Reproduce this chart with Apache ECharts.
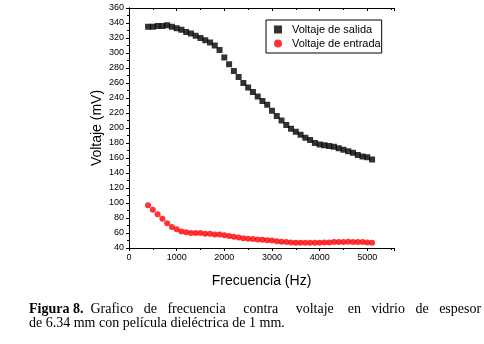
<!DOCTYPE html>
<html>
<head>
<meta charset="utf-8">
<script src="https://cdn.jsdelivr.net/npm/echarts@6/dist/echarts.min.js"></script>
<style>
  html, body { margin: 0; padding: 0; background: #fff; }
  #main { width: 484px; height: 344px; }
</style>
</head>
<body>
<div id="main"></div>
<script>
// frequency (Hz)
const freq = [400, 500, 600, 700, 800, 900, 1000, 1100, 1200, 1300, 1400, 1500,
  1600, 1700, 1800, 1900, 2000, 2100, 2200, 2300, 2400, 2500, 2600, 2700,
  2800, 2900, 3000, 3100, 3200, 3300, 3400, 3500, 3600, 3700, 3800, 3900,
  4000, 4100, 4200, 4300, 4400, 4500, 4600, 4700, 4800, 4900, 5000, 5100];

// output voltage (mV)
const salida = [335, 335, 336, 336, 337, 335, 333, 331, 328, 326, 323, 320,
  317, 314, 310, 304, 294, 285, 276, 268, 260, 254, 248, 242,
  236, 231, 223, 216, 210, 204, 199, 195, 191, 187, 184, 180,
  178, 177, 176, 175, 173, 171, 169, 167, 164, 162, 161, 158];

// input voltage (mV)
const entrada = [97, 91, 85, 79, 73, 68, 65, 62, 61, 60, 60, 60,
  59, 59, 58, 58, 57, 56, 55, 54, 53, 52.5, 52, 51.5,
  51, 50.5, 50, 49, 48.5, 48, 47.5, 47, 47, 47, 47, 47,
  47, 47.5, 47.5, 48, 48, 48, 48.5, 48, 48, 48, 47.5, 47];

// caption, first line is justified in the original so the gaps are widened
const captionLine1 = 'Grafico   de   frecuencia     contra     voltaje    en   vidrio   de   espesor';
const captionLine2 = 'de 6.34 mm con película dieléctrica de 1 mm.';

const chart = echarts.init(document.getElementById('main'), null, { renderer: 'canvas' });

const labelFont = 'Liberation Sans Narrow, Liberation Sans, Arial, sans-serif';
const serif = 'Liberation Serif, Times New Roman, serif';
const axisBase = { min: 0, max: 5560, interval: 1000 };

chart.setOption({
  animation: false,
  backgroundColor: '#fff',
  grid: { left: 129, right: 90, top: 8, bottom: 96 },
  legend: {
    orient: 'vertical',
    left: 266, top: 20,
    padding: [4, 1, 4, 8],
    itemGap: 3,
    itemWidth: 8, itemHeight: 8,
    borderColor: '#000', borderWidth: 1, borderRadius: 0,
    backgroundColor: '#fff',
    textStyle: { fontFamily: labelFont, fontSize: 11, color: '#000', padding: [0, 0, 0, 5] },
    data: [
      { name: 'Voltaje de salida', icon: 'rect' },
      { name: 'Voltaje de entrada', icon: 'circle' }
    ]
  },
  xAxis: [{
    type: 'value', ...axisBase,
    name: 'Frecuencia (Hz)', nameLocation: 'middle', nameGap: 26, nameMoveOverlap: false,
    nameTextStyle: { fontFamily: labelFont, fontSize: 14, color: '#000' },
    axisLine: { lineStyle: { color: '#000', width: 1 } },
    axisTick: { length: 3, lineStyle: { color: '#000' } },
    minorTick: { show: true, splitNumber: 2, length: 2, lineStyle: { color: '#000' } },
    axisLabel: { fontFamily: labelFont, fontSize: 9, color: '#000', margin: 5, showMaxLabel: false,
      formatter: v => String(v) },
    splitLine: { show: false }
  }, {
    type: 'value', ...axisBase, position: 'top',
    axisLine: { lineStyle: { color: '#000', width: 1 } },
    axisTick: { inside: true, length: 3, lineStyle: { color: '#000' } },
    minorTick: { show: true, splitNumber: 2, length: 2, lineStyle: { color: '#000' } },
    axisLabel: { show: false },
    splitLine: { show: false }
  }],
  yAxis: [{
    type: 'value', min: 40, max: 360, interval: 20,
    name: 'Voltaje (mV)', nameLocation: 'middle', nameGap: 25, nameMoveOverlap: false,
    nameTextStyle: { fontFamily: labelFont, fontSize: 14, color: '#000' },
    axisLine: { show: true, lineStyle: { color: '#000', width: 1 } },
    axisTick: { show: true, length: 3, lineStyle: { color: '#000' } },
    minorTick: { show: true, splitNumber: 2, length: 2, lineStyle: { color: '#000' } },
    axisLabel: { fontFamily: labelFont, fontSize: 9, color: '#000', margin: 5 },
    splitLine: { show: false }
  }, {
    type: 'value', min: 40, max: 360, interval: 20, position: 'right',
    axisLine: { show: true, lineStyle: { color: '#000', width: 1 } },
    axisTick: { show: true, inside: true, length: 3, lineStyle: { color: '#000' } },
    minorTick: { show: true, splitNumber: 2, length: 2, lineStyle: { color: '#000' } },
    axisLabel: { show: false },
    splitLine: { show: false }
  }],
  series: [{
    name: 'Voltaje de salida',
    type: 'scatter',
    symbol: 'rect', symbolSize: 6,
    itemStyle: { color: '#000' },
    data: freq.map((f, i) => [f, salida[i]])
  }, {
    name: 'Voltaje de entrada',
    type: 'scatter',
    symbol: 'circle', symbolSize: 6,
    itemStyle: { color: '#f00' },
    data: freq.map((f, i) => [f, entrada[i]])
  }],
  graphic: [{
    type: 'text', left: 29, top: 302,
    style: {
      text: '{b|Figura 8.}  ' + captionLine1,
      rich: { b: { fontWeight: 'bold', fontFamily: serif, fontSize: 14 } },
      fontFamily: serif, fontSize: 14, fill: '#000'
    }
  }, {
    type: 'text', left: 29, top: 316,
    style: {
      text: captionLine2,
      fontFamily: serif, fontSize: 14, fill: '#000'
    }
  }]
});
</script>
</body>
</html>
